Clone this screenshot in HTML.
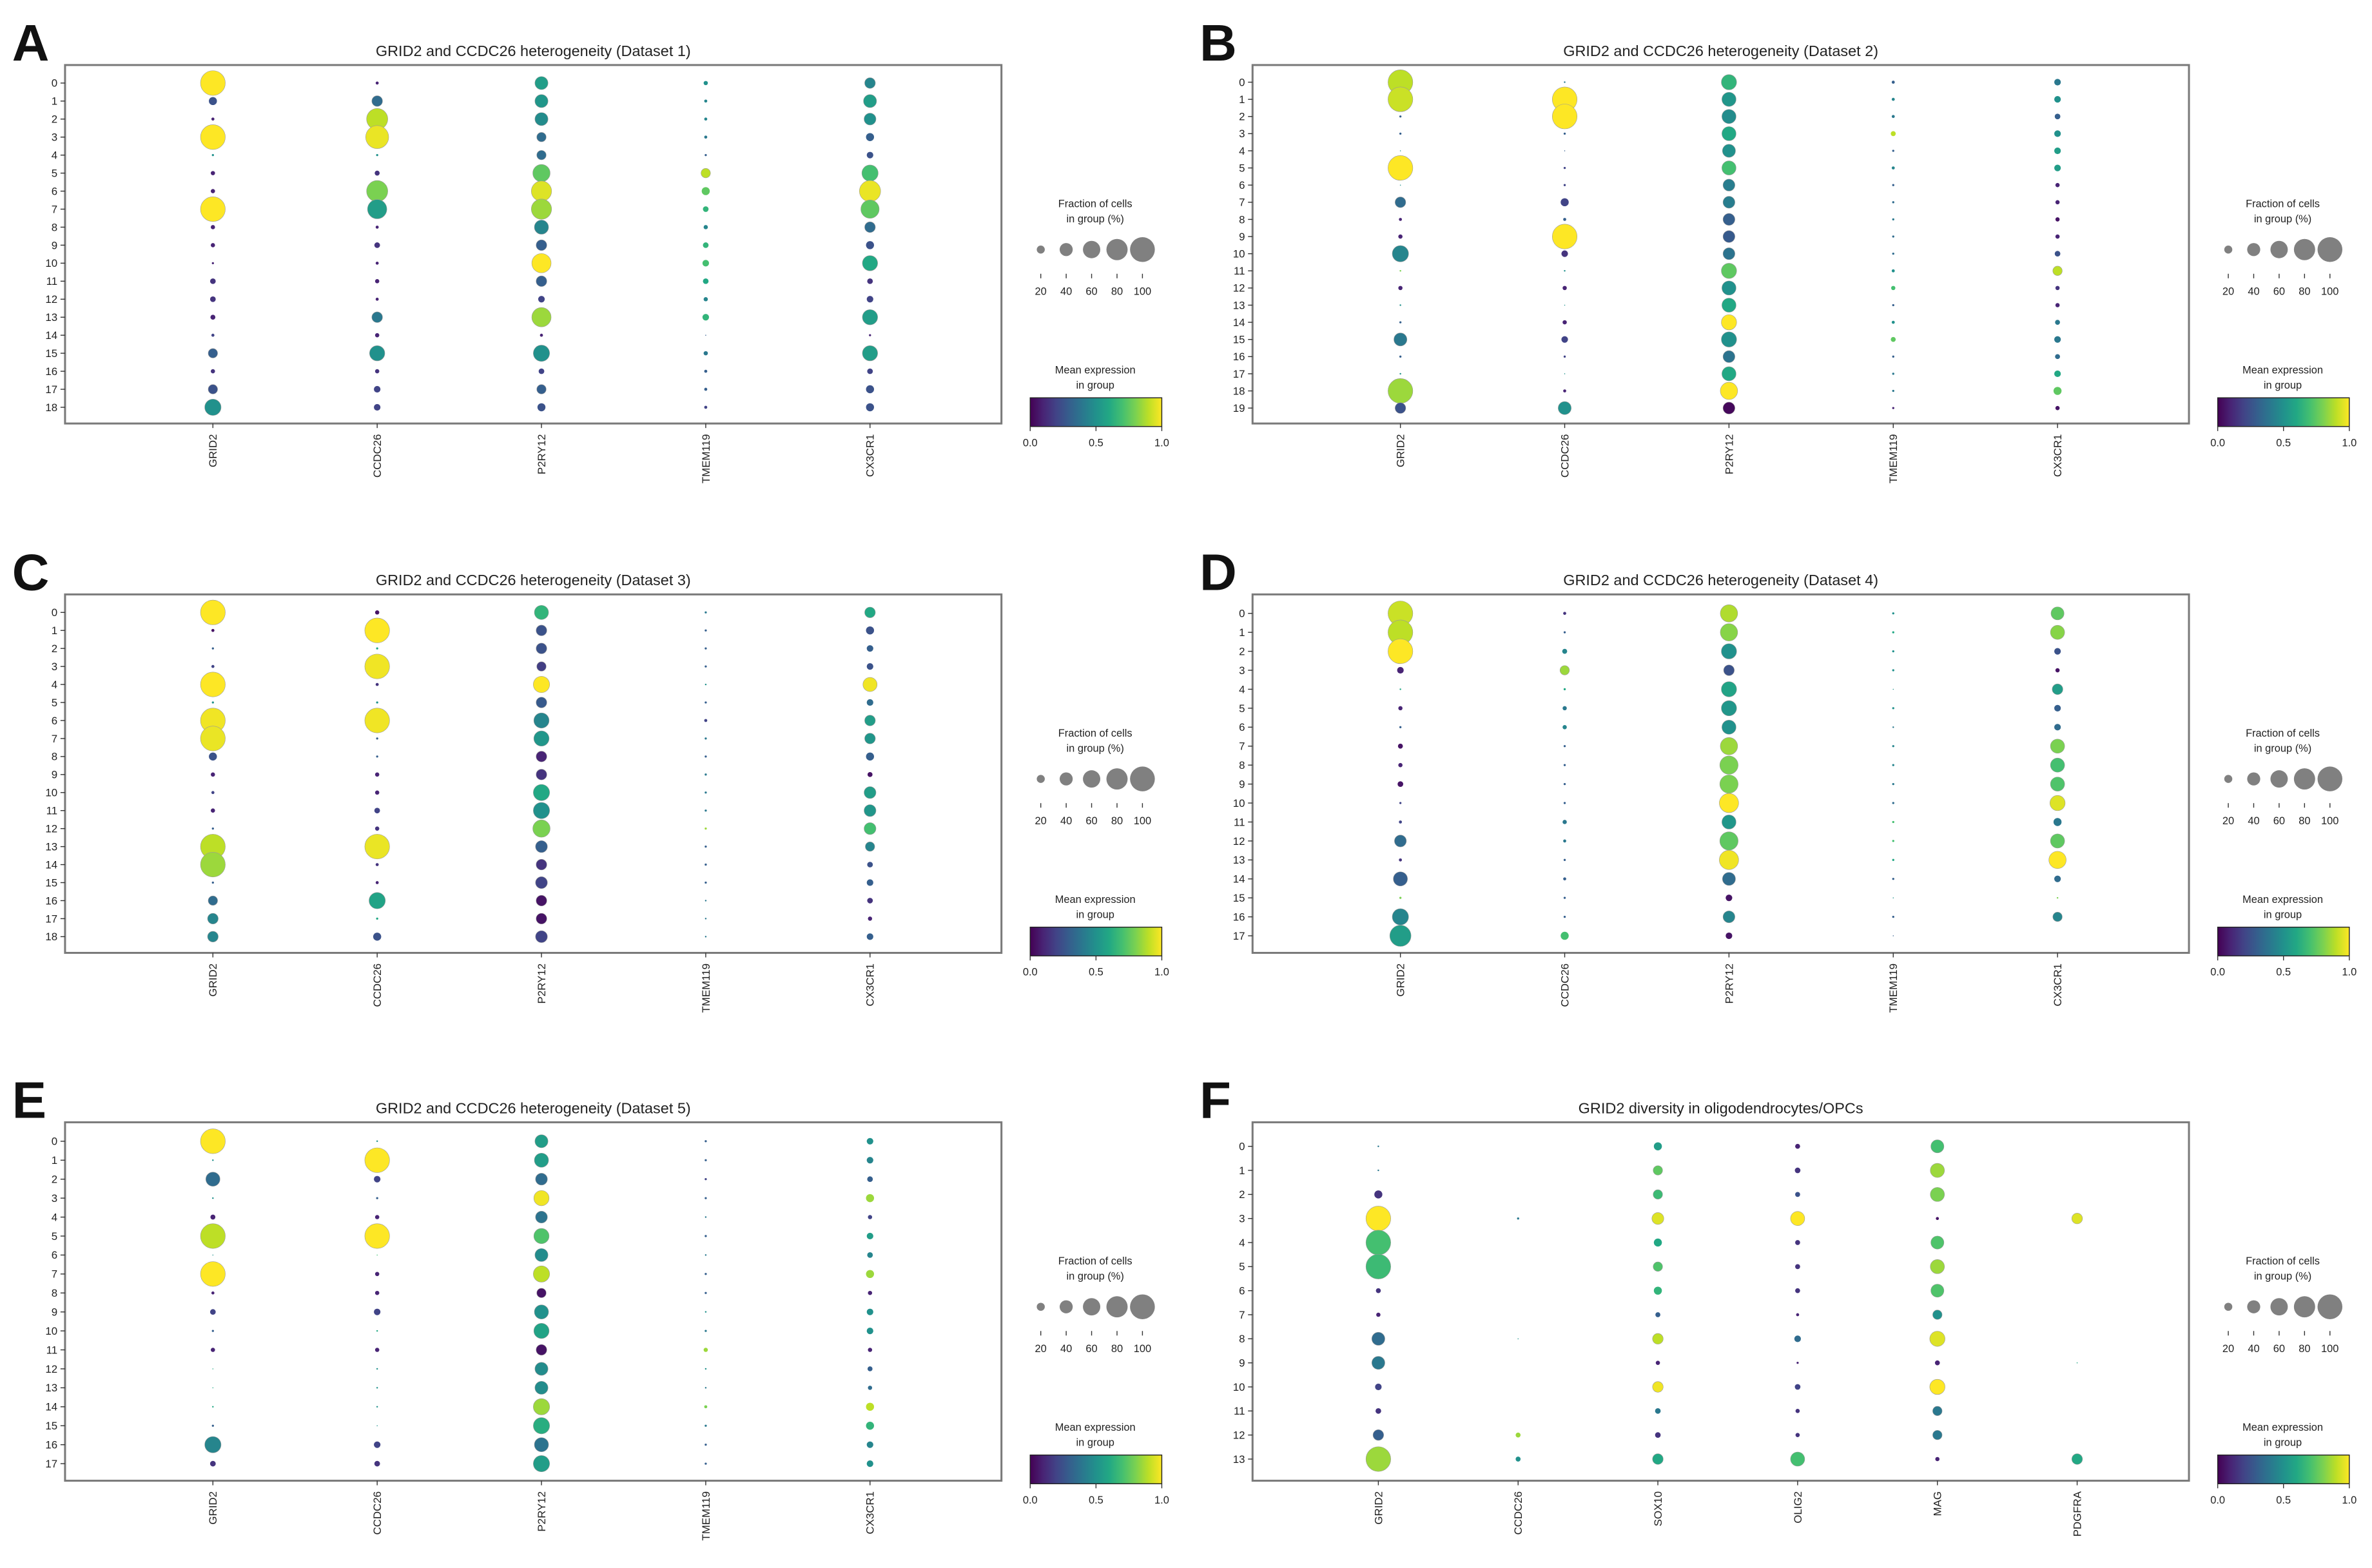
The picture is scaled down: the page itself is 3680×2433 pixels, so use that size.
<!DOCTYPE html>
<html><head><meta charset="utf-8">
<style>
html,body{margin:0;padding:0;background:#fff;}
svg{display:block;font-family:"Liberation Sans",sans-serif;}
</style></head>
<body>
<svg id="fig" xmlns="http://www.w3.org/2000/svg" width="3680" height="2433" viewBox="0 0 1568 1036.7" preserveAspectRatio="none"></svg>
<script>
// ---- Panel A data ----
const aTitle = "GRID2 and CCDC26 heterogeneity (Dataset 1)";
const aGenes = ["GRID2","CCDC26","P2RY12","TMEM119","CX3CR1"];
const aFrac = [
 [100,20,5,100,3,8,8,100,8,8,3,12,12,10,5,25,8,25,55],
 [5,30,80,90,3,10,80,70,5,12,5,8,5,30,8,50,8,15,15],
 [40,40,40,25,25,60,75,75,45,30,70,30,15,70,5,55,12,25,20],
 [8,5,5,5,3,25,20,12,8,12,15,12,8,15,1,8,5,5,5],
 [30,40,35,20,15,55,80,65,30,20,50,12,15,50,3,50,12,20,20]];
const aExpr = [
 [1,.25,.1,1,.5,.1,.1,1,.1,.1,.1,.15,.15,.1,.2,.3,.15,.25,.5],
 [.1,.35,.9,.97,.5,.15,.8,.55,.1,.15,.1,.1,.1,.4,.1,.5,.15,.2,.2],
 [.55,.52,.48,.35,.35,.75,.95,.85,.45,.3,1,.3,.2,.85,.1,.5,.2,.3,.25],
 [.5,.45,.45,.4,.3,.9,.75,.65,.45,.65,.7,.6,.45,.65,.3,.4,.3,.3,.2],
 [.45,.55,.5,.3,.25,.7,.97,.75,.35,.25,.6,.15,.2,.55,.1,.55,.2,.25,.25]];
// ---- Panel B data ----
const bTitle = "GRID2 and CCDC26 heterogeneity (Dataset 2)";
const bGenes = ["GRID2","CCDC26","P2RY12","TMEM119","CX3CR1"];
const bFrac = [
 [100,100,3,3,1,100,1,30,5,8,55,2,8,2,3,40,3,2,100,30],
 [2,100,100,3,1,3,3,20,5,100,15,2,8,1,8,15,3,1,5,40],
 [50,45,45,45,40,45,35,35,35,35,35,50,45,45,50,50,35,45,60,35],
 [5,5,5,10,3,5,3,3,3,3,3,5,8,3,5,10,3,3,3,3],
 [15,15,12,15,15,15,8,8,8,8,12,25,8,8,10,15,10,15,20,8]];
const bExpr = [
 [.9,.92,.3,.3,.5,1,.5,.35,.1,.1,.45,.8,.1,.5,.3,.4,.3,.5,.85,.25],
 [.4,1,1,.3,.3,.2,.2,.2,.3,1,.15,.5,.1,.5,.1,.2,.2,.5,.1,.5],
 [.65,.52,.48,.6,.5,.7,.42,.42,.3,.28,.38,.75,.5,.6,1,.5,.38,.6,1,.02],
 [.3,.45,.4,.9,.3,.45,.3,.35,.4,.35,.35,.5,.7,.3,.5,.75,.3,.4,.4,.1],
 [.4,.5,.3,.5,.55,.55,.1,.1,.05,.1,.25,.9,.15,.1,.4,.4,.35,.6,.75,.05]];
// ---- Panel C data ----
const cTitle = "GRID2 and CCDC26 heterogeneity (Dataset 3)";
const cGenes = ["GRID2","CCDC26","P2RY12","TMEM119","CX3CR1"];
const cFrac = [
 [100,5,3,5,100,3,100,100,20,8,5,8,3,100,100,3,25,30,30],
 [8,100,3,100,5,3,100,3,3,8,8,12,8,100,5,5,55,3,20],
 [45,30,30,25,55,30,50,50,30,30,55,55,60,35,30,35,30,30,35],
 [3,3,3,3,2,3,5,3,3,3,3,3,3,3,3,3,2,2,2],
 [30,20,15,15,45,15,30,30,20,10,35,35,35,25,12,15,12,8,15]];
const cExpr = [
 [1,.05,.3,.2,1,.5,.98,.97,.25,.1,.2,.1,.3,.9,.85,.3,.35,.45,.45],
 [.05,1,.6,.98,.15,.5,.98,.3,.3,.1,.1,.2,.15,.97,.15,.1,.58,.6,.25],
 [.65,.25,.25,.18,1,.28,.45,.52,.1,.15,.6,.5,.8,.3,.15,.2,.05,.05,.2],
 [.4,.3,.3,.3,.5,.3,.2,.4,.3,.4,.4,.4,.85,.3,.3,.3,.4,.4,.4],
 [.6,.25,.3,.25,.98,.35,.55,.52,.3,.05,.55,.52,.7,.45,.25,.3,.15,.1,.3]];
// ---- Panel D data ----
const dTitle = "GRID2 and CCDC26 heterogeneity (Dataset 4)";
const dGenes = ["GRID2","CCDC26","P2RY12","TMEM119","CX3CR1"];
const dFrac = [
 [100,100,100,15,2,8,3,10,8,12,3,5,35,5,45,3,55,80],
 [5,3,10,25,3,8,8,3,3,3,3,8,5,3,5,3,3,20],
 [60,60,50,30,50,50,45,60,65,65,70,45,65,70,40,15,35,15],
 [3,3,3,3,1,3,2,3,3,3,3,3,3,3,3,1,3,1],
 [40,45,15,8,30,15,15,45,45,45,50,20,45,60,15,2,25,0]];
const dExpr = [
 [.92,.9,1,.1,.6,.1,.3,.05,.1,.05,.2,.2,.35,.15,.3,.8,.45,.55],
 [.15,.3,.45,.85,.6,.4,.45,.3,.3,.3,.3,.4,.4,.3,.3,.3,.3,.7],
 [.88,.82,.5,.25,.58,.52,.5,.85,.8,.8,1,.52,.75,.98,.35,.05,.45,.05],
 [.5,.6,.5,.5,.5,.5,.4,.45,.45,.4,.35,.7,.7,.6,.3,.5,.3,.3],
 [.75,.82,.25,.05,.55,.3,.35,.8,.7,.72,.95,.4,.75,1,.35,.8,.45,0]];
// ---- Panel E data ----
const eTitle = "GRID2 and CCDC26 heterogeneity (Dataset 5)";
const eGenes = ["GRID2","CCDC26","P2RY12","TMEM119","CX3CR1"];
const eFrac = [
 [100,2,45,2,10,100,1,100,5,12,3,8,1,1,2,3,55,12],
 [2,100,15,3,8,100,1,8,8,15,2,8,2,2,2,1,15,12],
 [40,45,35,50,35,50,40,55,25,45,50,30,40,40,55,55,45,55],
 [3,3,3,3,2,3,2,3,3,2,3,8,2,2,5,3,3,3],
 [15,15,12,20,8,15,12,20,8,15,15,8,10,8,20,20,15,15]];
const eExpr = [
 [1,.5,.35,.5,.1,.9,.5,1,.1,.2,.3,.1,.6,.6,.6,.3,.45,.15],
 [.5,1,.2,.3,.1,1,.7,.1,.1,.2,.6,.1,.5,.5,.5,.5,.2,.15],
 [.55,.55,.35,.98,.38,.72,.48,.9,.05,.5,.58,.05,.48,.48,.85,.62,.38,.55],
 [.3,.3,.2,.3,.4,.3,.4,.3,.3,.5,.4,.85,.5,.4,.8,.4,.3,.3],
 [.5,.45,.3,.85,.2,.55,.45,.85,.1,.5,.5,.1,.3,.35,.9,.65,.45,.5]];
// ---- Panel F data ----
const fTitle = "GRID2 diversity in oligodendrocytes/OPCs";
const fGenes = ["GRID2","CCDC26","SOX10","OLIG2","MAG","PDGFRA"];
const fFrac = [
 [2,2,20,100,100,100,10,8,40,40,15,12,30,100],
 [0,0,0,3,0,0,0,0,1,0,0,0,10,10],
 [20,25,25,35,20,25,20,10,30,8,30,12,12,30],
 [10,12,10,45,10,10,10,5,15,3,12,8,8,45],
 [40,45,45,5,40,45,40,25,50,10,50,25,25,8],
 [0,0,0,30,0,0,0,0,0,1,0,0,0,30]];
const fExpr = [
 [.4,.4,.15,1,.7,.68,.15,.1,.35,.4,.2,.15,.3,.85],
 [0,0,0,.4,0,0,0,0,.5,0,0,0,.85,.5],
 [.55,.75,.68,.95,.6,.72,.65,.3,.9,.1,.98,.4,.15,.6],
 [.1,.15,.25,1,.15,.15,.15,.1,.35,.1,.2,.15,.15,.7],
 [.7,.85,.8,.05,.72,.85,.72,.5,.95,.1,1,.4,.4,.1],
 [0,0,0,.95,0,0,0,0,0,.6,0,0,0,.6]];
const legendFracs = [20,40,60,80,100];
const cbTicks = ["0.0","0.5","1.0"];

const NS = "http://www.w3.org/2000/svg";
const svg = document.getElementById('fig');
function mk(tag, attrs, parent, text){
  const el = document.createElementNS(NS, tag);
  for (const k in attrs) el.setAttribute(k, attrs[k]);
  if (text !== undefined) el.textContent = text;
  (parent||svg).appendChild(el);
  return el;
}
const VIR = ["#440154","#482475","#414487","#355f8d","#2a788e","#21918c","#22a884","#44bf70","#7ad151","#bddf26","#fde725"];
function hex(h){return [parseInt(h.substr(1,2),16),parseInt(h.substr(3,2),16),parseInt(h.substr(5,2),16)];}
function viridis(v){
  v=Math.max(0,Math.min(1,v)); const p=v*10; const i=Math.min(9,Math.floor(p)); const t=p-i;
  const a=hex(VIR[i]), b=hex(VIR[i+1]);
  return "rgb("+a.map((c,k)=>Math.round(c+(b[k]-c)*t)).join(",")+")";
}
function radius(f){ return f<=0?0:8.2*Math.pow(f/100,0.7); }

// defs: colorbar gradient
const defs = mk('defs',{});
const grad = mk('linearGradient',{id:'vgrad',x1:'0',x2:'1',y1:'0',y2:'0'},defs);
VIR.forEach((c,i)=>mk('stop',{offset:(i/10),'stop-color':c},grad));

function panel(letter, ox, oy, title, genes, frac, expr){
  const g = mk('g',{transform:`translate(${ox},${oy})`});
  
  
  const L=43, T=43, W=619, H=237;
  const nC = genes.length, nR = frac[0].length;
  const xOf = i => L + (i+0.9)/(nC+0.7)*W;
  const yOf = r => T + (r+1)/(nR+0.9)*H;
  const lt = mk('text',{x:8,y:40,'font-size':34,'font-weight':'bold',fill:'#111'},g,letter);
  
  
  const tt = mk('text',{x:L+W/2,y:37,'font-size':10,'text-anchor':'middle',fill:'#222'},g,title);
  
  
  const box = mk('rect',{x:L,y:T,width:W,height:H,fill:'none',stroke:'#7a7a7a','stroke-width':1.3},g);
  
  
  for(let r=0;r<nR;r++){
    const y=yOf(r);
    mk('line',{x1:L-3,x2:L,y1:y,y2:y,stroke:'#333','stroke-width':0.6},g);
    const yl = mk('text',{x:L-5,y:y+2.5,'font-size':7.2,'text-anchor':'end',fill:'#222'},g,String(r));
    
    
  }
  genes.forEach((gn,i)=>{
    const x=xOf(i);
    mk('line',{x1:x,x2:x,y1:T+H,y2:T+H+3,stroke:'#333','stroke-width':0.6},g);
    const xl = mk('text',{x:0,y:0,'font-size':7.2,'text-anchor':'end',fill:'#222',transform:`translate(${x+2.5},${T+H+7}) rotate(-90)`},g,gn);
    
    
    for(let r=0;r<nR;r++){
      const rr=radius(frac[i][r]); if(rr<=0) continue;
      const c = mk('circle',{cx:x,cy:yOf(r),r:rr,fill:viridis(expr[i][r]),stroke:'#999','stroke-width':rr>3?0.25:0},g);
      
      
    }
  });
  // size legend
  const lg = mk('g',{},g);
  
  
  mk('text',{x:724,y:137,'font-size':7,'text-anchor':'middle',fill:'#222'},lg,'Fraction of cells');
  mk('text',{x:724,y:147,'font-size':7,'text-anchor':'middle',fill:'#222'},lg,'in group (%)');
  legendFracs.forEach((f,i)=>{
    const x=688+i*16.8;
    const d = mk('circle',{cx:x,cy:165,r:radius(f),fill:'#808080'},lg);
    
    
    mk('line',{x1:x,x2:x,y1:181,y2:184,stroke:'#333','stroke-width':0.6},lg);
    mk('text',{x:x,y:195,'font-size':7,'text-anchor':'middle',fill:'#222'},lg,String(f));
  });
  // colorbar
  const cg = mk('g',{},g);
  
  
  mk('text',{x:724,y:247,'font-size':7,'text-anchor':'middle',fill:'#222'},cg,'Mean expression');
  mk('text',{x:724,y:257,'font-size':7,'text-anchor':'middle',fill:'#222'},cg,'in group');
  mk('rect',{x:681,y:263,width:87,height:19,fill:'url(#vgrad)',stroke:'#222','stroke-width':0.6},cg);
  cbTicks.forEach((t,i)=>{
    const x=681+i*43.5;
    mk('line',{x1:x,x2:x,y1:282,y2:285,stroke:'#333','stroke-width':0.6},cg);
    mk('text',{x:x,y:295,'font-size':7,'text-anchor':'middle',fill:'#222'},cg,t);
  });
}
panel('A',0,0,aTitle,aGenes,aFrac,aExpr);
panel('B',785,0,bTitle,bGenes,bFrac,bExpr);
panel('C',0,350,cTitle,cGenes,cFrac,cExpr);
panel('D',785,350,dTitle,dGenes,dFrac,dExpr);
panel('E',0,699,eTitle,eGenes,eFrac,eExpr);
panel('F',785,699,fTitle,fGenes,fFrac,fExpr);
</script>
</body></html>
